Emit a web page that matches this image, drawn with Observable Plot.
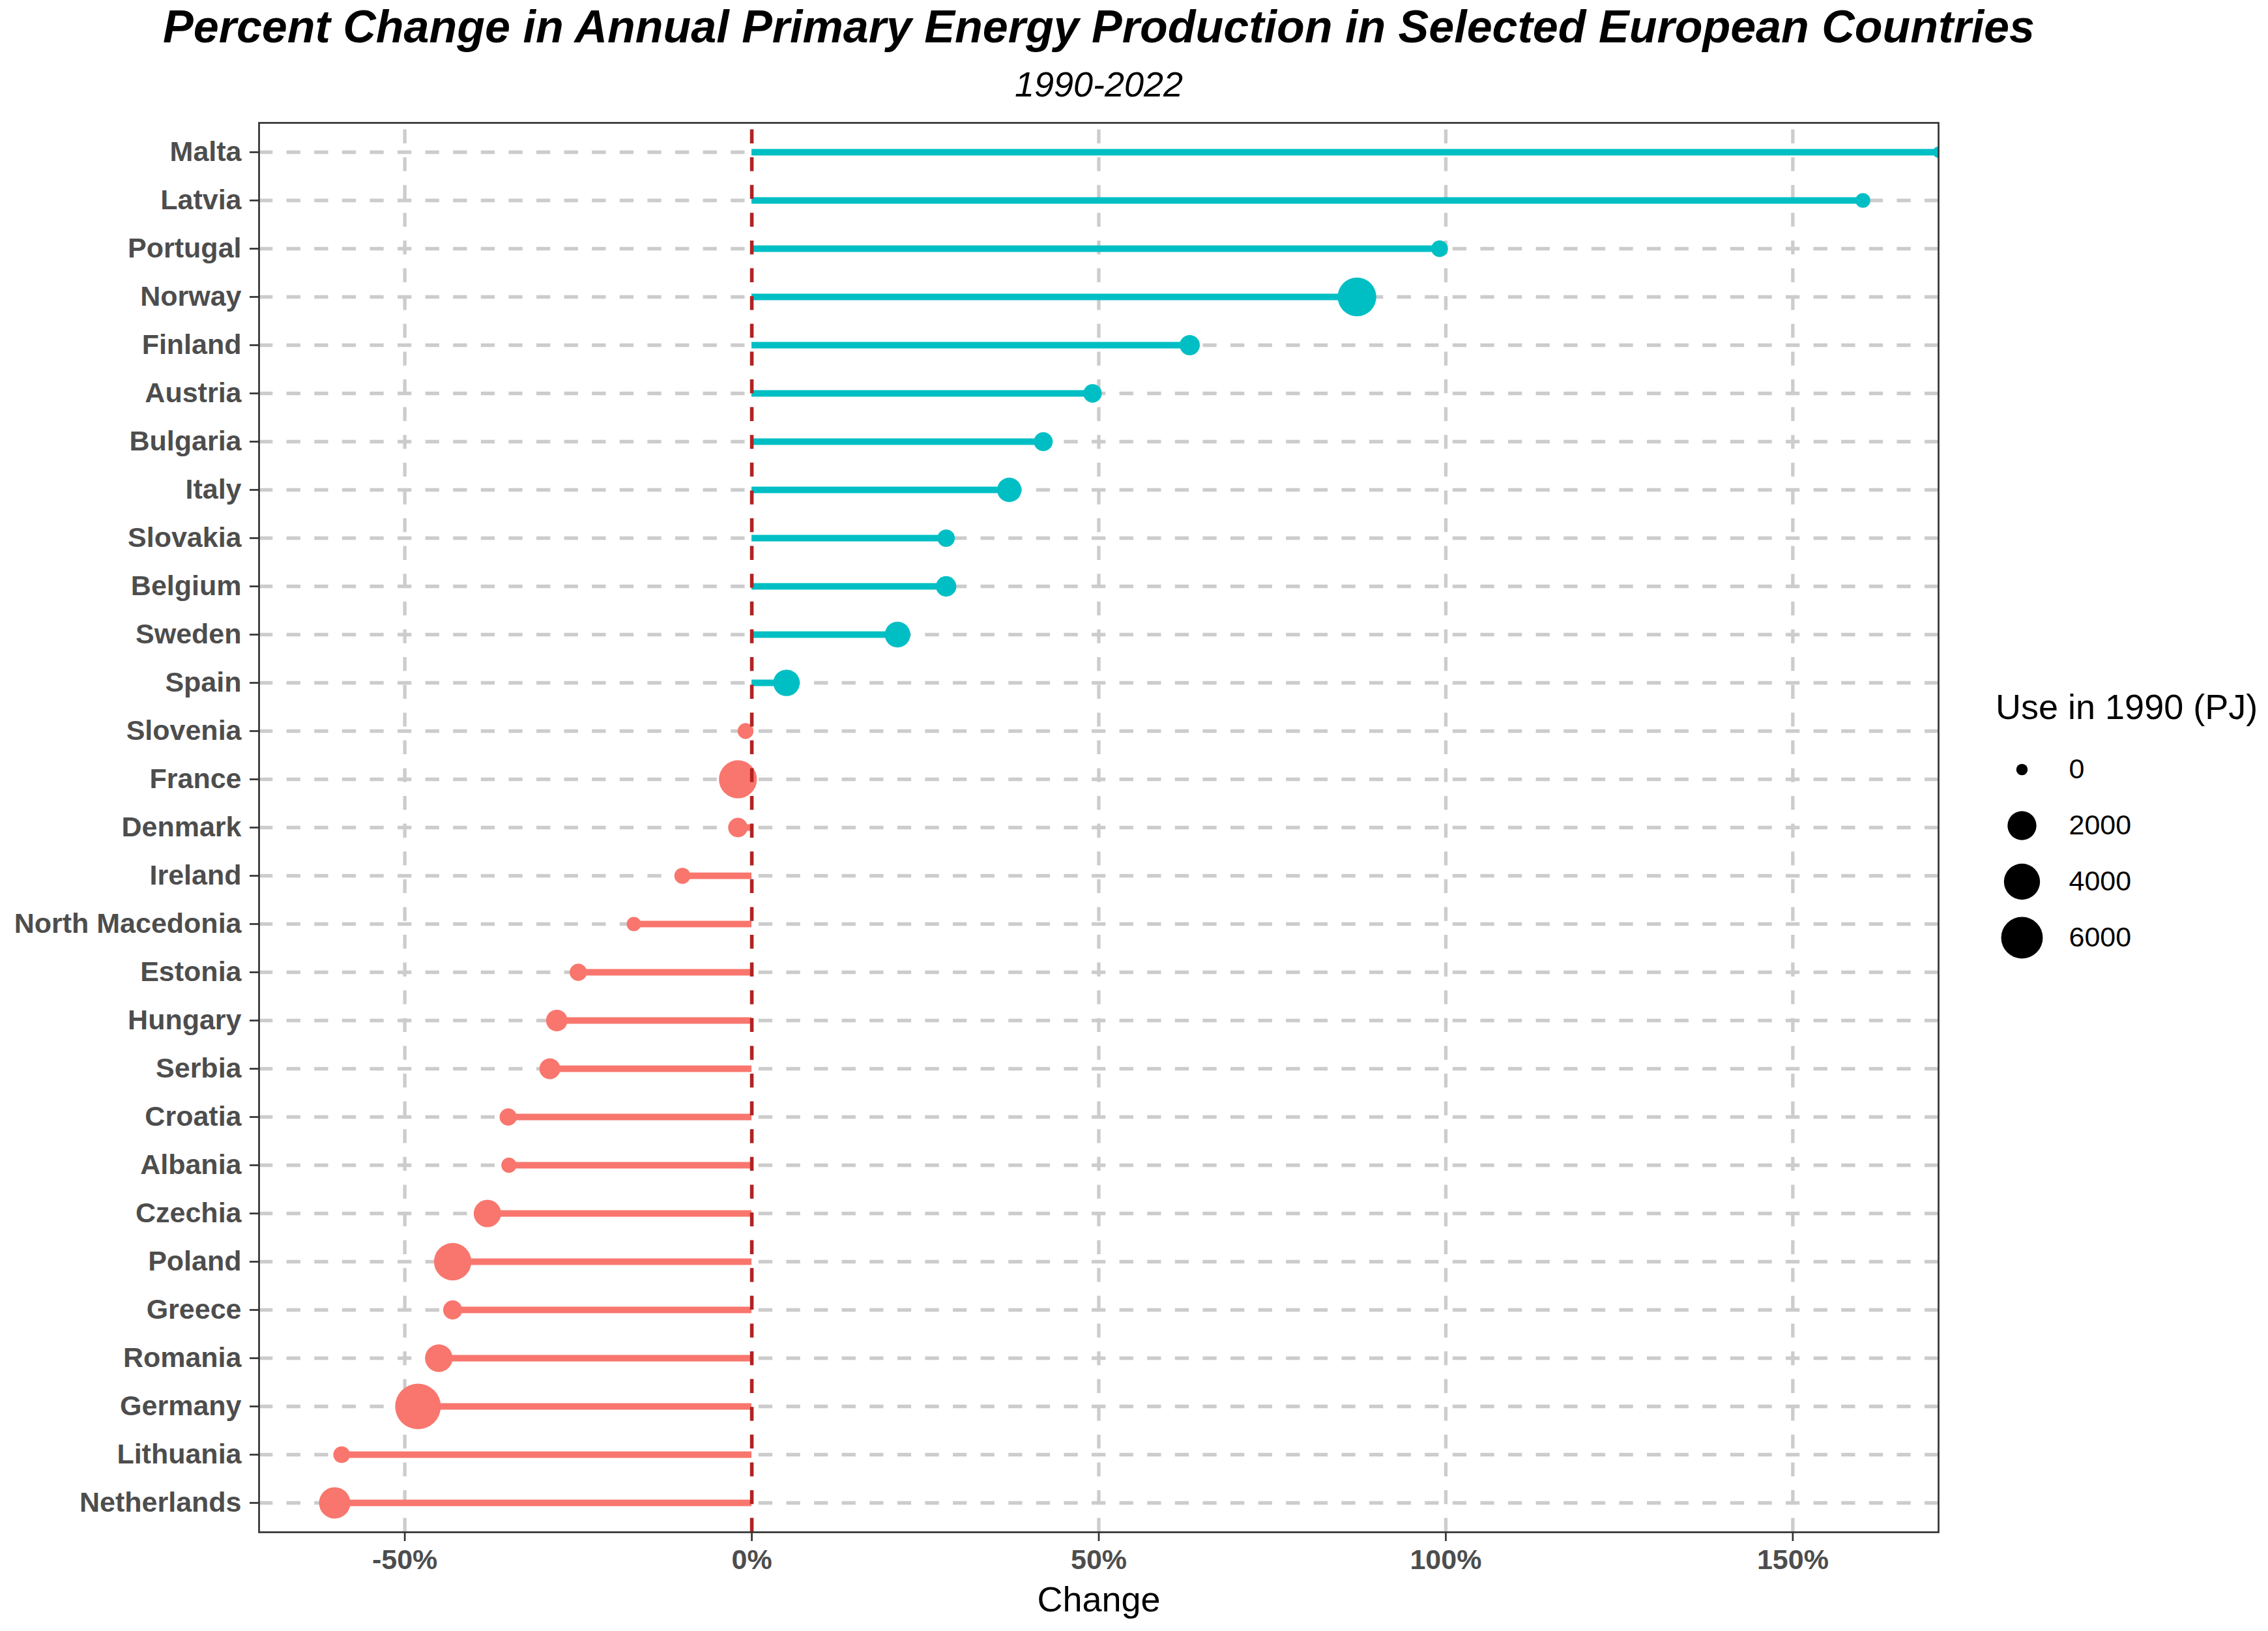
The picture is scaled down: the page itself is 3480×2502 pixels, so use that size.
<!DOCTYPE html>
<html>
<head>
<meta charset="utf-8">
<script src="https://cdn.jsdelivr.net/npm/d3@7"></script>
<script src="https://cdn.jsdelivr.net/npm/@observablehq/plot@0.6"></script>
<style>
  html, body { margin: 0; padding: 0; background: #fff; }
  #page { position: relative; width: 3480px; height: 2502px; overflow: hidden; background: #fff;
          font-family: "Liberation Sans", Arial, Helvetica, sans-serif; color: #000; }
  #title { position: absolute; left: 1686px; top: 6px; transform: translateX(-50%); white-space: nowrap;
           font-size: 70px; font-weight: bold; font-style: italic; line-height: 1; }
  #subtitle { position: absolute; left: 1686px; top: 102px; transform: translateX(-50%); white-space: nowrap;
              font-size: 54px; font-style: italic; line-height: 1; }
  #chart { position: absolute; left: 0; top: 160px; }
  #legend-title { position: absolute; left: 3062px; top: 1057px; font-size: 54px; line-height: 1; white-space: nowrap; }
  #legend { position: absolute; left: 3000px; top: 1130px; }
  svg g[aria-label="y-axis tick label"] text, svg g[aria-label="x-axis tick label"] text { font-weight: bold; }
</style>
</head>
<body>
<div id="page">
  <div id="title">Percent Change in Annual Primary Energy Production in Selected European Countries</div>
  <div id="subtitle">1990-2022</div>
  <div id="chart"></div>
  <div id="legend-title">Use in 1990 (PJ)</div>
  <div id="legend"></div>
</div>
<script>
// Countries, top to bottom
const countries = ["Malta","Latvia","Portugal","Norway","Finland","Austria","Bulgaria","Italy","Slovakia","Belgium","Sweden","Spain","Slovenia","France","Denmark","Ireland","North Macedonia","Estonia","Hungary","Serbia","Croatia","Albania","Czechia","Poland","Greece","Romania","Germany","Lithuania","Netherlands"];
// Percent change 1990-2022 (Malta: from zero production, off the chart)
const changePct = [Infinity,160.1,99.1,87.2,63.1,49.1,42.0,37.1,28.0,28.0,21.0,5.0,-0.9,-2.0,-2.0,-10.0,-17.0,-25.0,-28.1,-29.1,-35.1,-35.0,-38.1,-43.1,-43.1,-45.1,-48.1,-59.1,-60.1];
// Use in 1990 (PJ)
const use1990 = [0,75,187,4870,508,325,369,1093,236,531,1325,1500,129,4640,435,144,56,226,670,586,226,94,1673,4437,388,1714,7682,187,2610];
// Axis ticks and legend breaks
const xTicks = [-50, 0, 50, 100, 150];
const legendSizes = [0, 2000, 4000, 6000];

const data = countries.map((c, i) => ({
  country: c, change: changePct[i], use: use1990[i],
  dir: changePct[i] >= 0 ? "Increase" : "Decrease"
}));

const font = '"Liberation Sans", Arial, Helvetica, sans-serif';
const rOpts = {type: "sqrt", domain: [0, 10000], range: [8.75, 38.7]};
const grid = {stroke: "#CCCCCC", strokeOpacity: 1, strokeWidth: 5.3, strokeDasharray: "21.3,21.3"};

const chart = Plot.plot({
  width: 3480, height: 2342,
  marginTop: 28, marginBottom: 152, marginLeft: 397, marginRight: 506,
  style: {fontFamily: font, fontSize: "43px", background: "white", color: "black", overflow: "visible"},
  x: {domain: [-71, 171], clamp: true, label: null},
  y: {type: "point", domain: countries, padding: 0.6, label: null},
  r: rOpts,
  color: {domain: ["Decrease", "Increase"], range: ["#F8766D", "#00BFC4"]},
  marks: [
    Plot.gridY({...grid}),
    Plot.gridX({ticks: xTicks, ...grid, strokeDashoffset: 32}),
    Plot.ruleY(data, {y: "country", x1: 0, x2: "change", stroke: "dir", strokeWidth: 10}),
    Plot.dot(data, {x: "change", y: "country", r: "use", fill: "dir", clip: true}),
    Plot.ruleX([0], {stroke: "#B22222", strokeWidth: 5.5, strokeDasharray: "21.3,21.3", strokeDashoffset: 32}),
    Plot.frame({stroke: "#333333", strokeWidth: 2.7}),
    Plot.axisX({ticks: xTicks, tickFormat: d => d + "%", tickSize: 14, tickPadding: 12,
                fontSize: 43, fontWeight: "bold", fill: "#4D4D4D", stroke: "#333333", strokeWidth: 2.7, label: null}),
    Plot.axisY({tickSize: 14, tickPadding: 13, fontSize: 43, fontWeight: "bold",
                fill: "#4D4D4D", stroke: "#333333", strokeWidth: 2.7, label: null}),
    Plot.text(["Change"], {frameAnchor: "bottom", dy: 121, lineAnchor: "bottom", fontSize: 54, fill: "black"})
  ]
});
document.getElementById("chart").appendChild(chart);

const legend = Plot.plot({
  width: 480, height: 360,
  marginTop: 49, marginBottom: 52, marginLeft: 102, marginRight: 0,
  style: {fontFamily: font, fontSize: "43px", background: "transparent", color: "black", overflow: "visible"},
  y: {type: "point", domain: legendSizes, padding: 0, axis: null},
  r: rOpts,
  marks: [
    Plot.dot(legendSizes, {y: d => d, r: d => d, fill: "black", frameAnchor: "left"}),
    Plot.text(legendSizes, {y: d => d, text: d => String(d), frameAnchor: "left", dx: 72,
                            textAnchor: "start", fontSize: 43, fill: "black"})
  ]
});
document.getElementById("legend").appendChild(legend);
</script>
</body>
</html>
